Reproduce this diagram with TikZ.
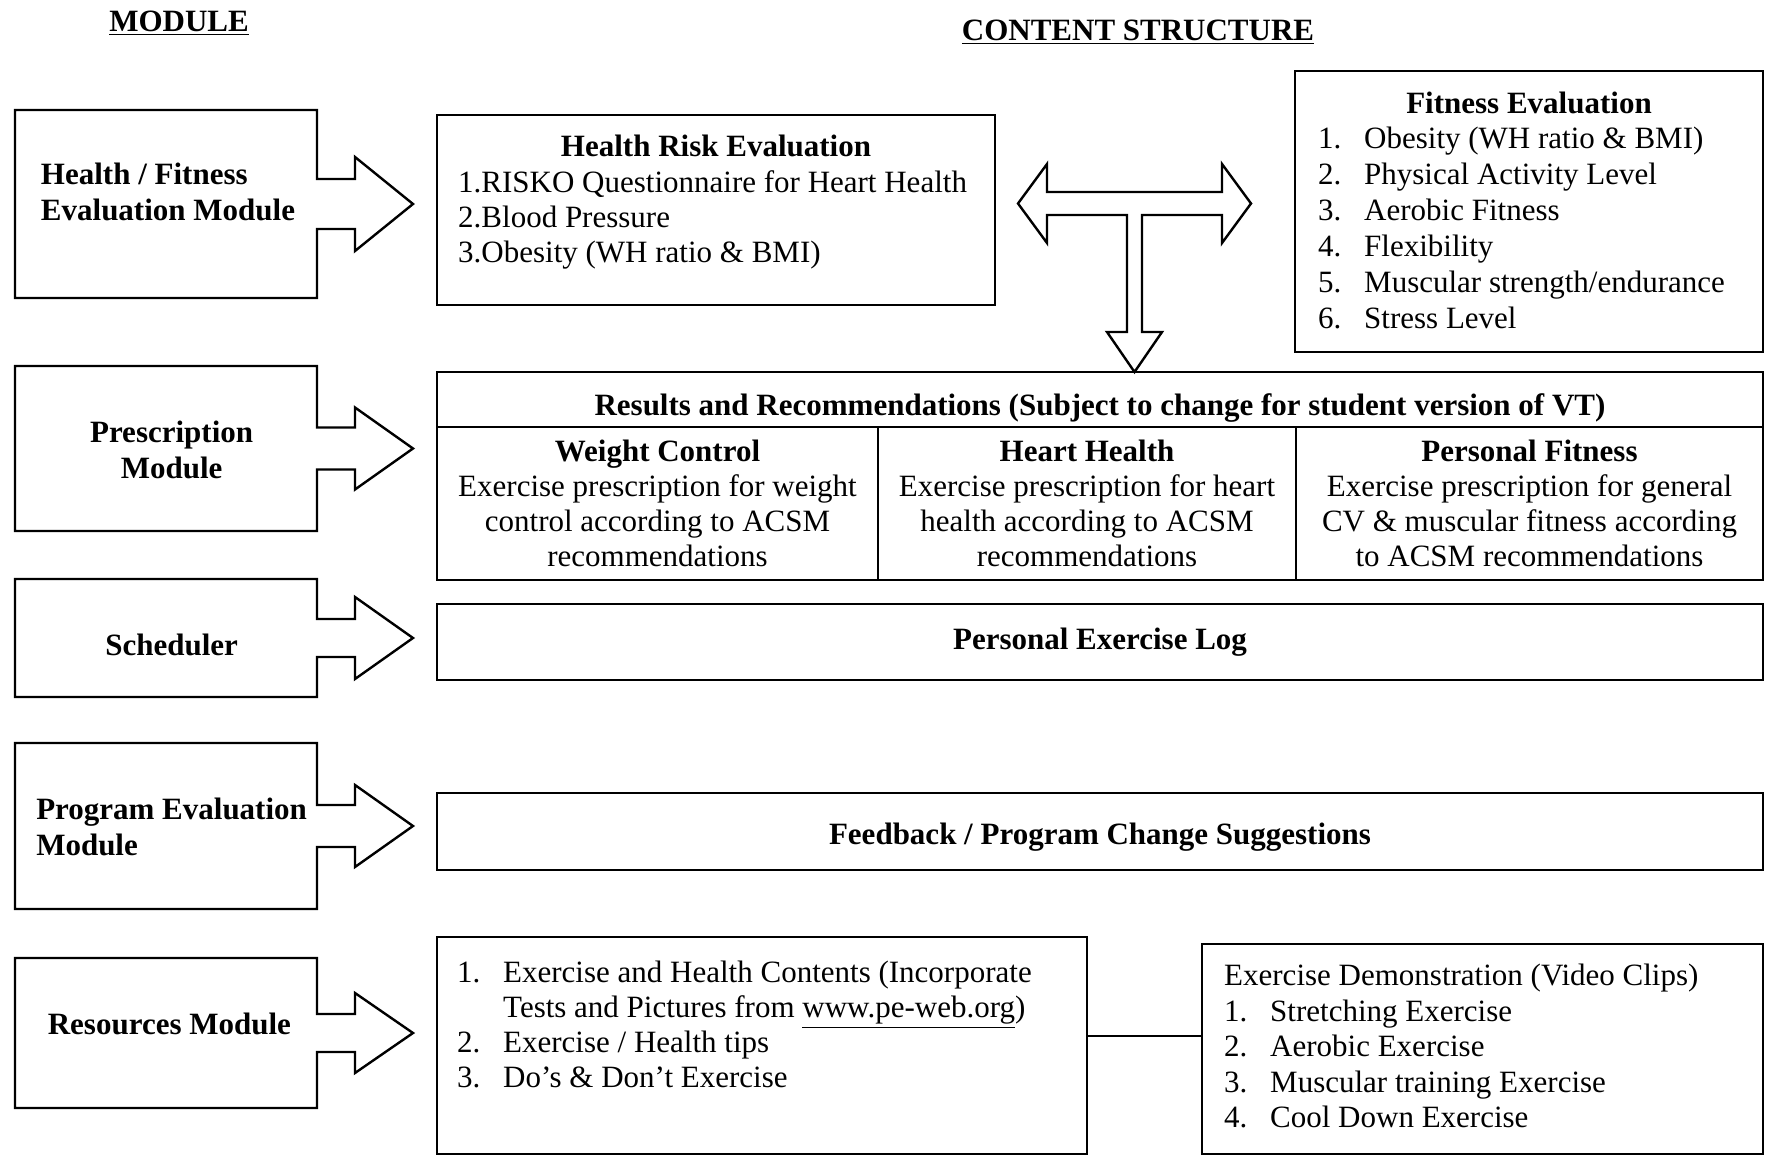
\documentclass[tikz,border=0pt]{standalone}
\usepackage{fontspec}
\setmainfont{Liberation Serif}
\usetikzlibrary{positioning}
\newcommand\nr[1]{\makebox[23pt][l]{#1}}
\begin{document}
\fontsize{15.5}{17.5}\selectfont
\begin{tikzpicture}[x=0.5pt, y=-0.5pt, line width=1.2pt,
  box/.style={draw, rectangle, inner sep=0pt, outer sep=0pt},
  modbox/.style={rectangle, minimum width=151pt, outer sep=0pt},
  modtxt/.style={inner sep=0pt, font=\fontsize{15.5}{18}\selectfont\bfseries},
  colbox/.style={draw, rectangle, outer sep=0pt, minimum height=76.5pt, align=center},
  txt/.style={inner sep=0pt, align=left}]
\useasboundingbox (0,0) rectangle (1770,1165);
\node[font=\bfseries] (modtitle) at (179,23) {\underline{MODULE}};
\node[font=\bfseries] (cstitle) at (1138,32) {\underline{CONTENT STRUCTURE}};
% modules on the left
\node[modbox, minimum height=94pt] (m1) at (166,204) {};
\node[modbox, minimum height=82.5pt] (m2) at (166,448.5) {};
\node[modbox, minimum height=59pt] (m3) at (166,638) {};
\node[modbox, minimum height=83pt] (m4) at (166,826) {};
\node[modbox, minimum height=75pt] (m5) at (166,1033) {};
\node[modtxt, align=left] (t1) at ([xshift=1pt,yshift=6pt]m1.center) {Health / Fitness\\Evaluation Module};
\node[modtxt, align=center] (t2) at ([xshift=2.8pt,yshift=-0.5pt]m2.center) {Prescription\\Module};
\node[modtxt] (t3) at ([xshift=2.8pt,yshift=-3.4pt]m3.center) {Scheduler};
\node[modtxt, align=left] (t4) at ([xshift=2.8pt,yshift=-0.5pt]m4.center) {Program Evaluation\\Module};
\node[modtxt] (t5) at ([xshift=1.7pt,yshift=4.5pt]m5.center) {Resources Module};
\foreach \m/\s/\h in {m1/12.5/23.5, m2/10.5/20.5, m3/9.5/20.5, m4/10.5/20.5, m5/9.5/20}
  \draw (\m.north west) -- (\m.north east) -- ([yshift=\s pt]\m.east) -- ++(19pt,0pt)
    -- ([xshift=19pt,yshift=\h pt]\m.east) -- ([xshift=48pt]\m.east)
    -- ([xshift=19pt,yshift=-\h pt]\m.east) -- ([xshift=19pt,yshift=-\s pt]\m.east)
    -- ([yshift=-\s pt]\m.east) -- (\m.south east) -- (\m.south west) -- cycle;
% evaluation
\node[box, minimum width=279pt, minimum height=95pt] (hre) at (716,210) {};
\node[txt, font=\bfseries, below=9.5pt of hre.north] (hretitle) {Health Risk Evaluation};
\node[txt, below right=27pt and 10pt of hre.north west] (hrelist) {1.RISKO Questionnaire for Heart Health\\2.Blood Pressure\\3.Obesity (WH ratio \& BMI)};
\node[box, minimum width=234pt, minimum height=140.5pt] (fe) at (1529,211.5) {};
\node[txt, font=\bfseries, below=10pt of fe.north] (fetitle) {Fitness Evaluation};
\node[txt, font=\fontsize{15.5}{18}\selectfont, below right=27.5pt and 11pt of fe.north west] (felist) {\nr{1.}Obesity (WH ratio \& BMI)\\\nr{2.}Physical Activity Level\\\nr{3.}Aerobic Fitness\\\nr{4.}Flexibility\\\nr{5.}Muscular strength/endurance\\\nr{6.}Stress Level};
\draw (1018,203.5) -- (1047,164) -- (1047,192) -- (1222,192) -- (1222,164) -- (1251,203.5)
  -- (1222,243) -- (1222,215) -- (1142,215) -- (1142,332) -- (1162,332) -- (1134.5,372)
  -- (1107,332) -- (1127,332) -- (1127,215) -- (1047,215) -- (1047,243) -- cycle;
% results
\node[box, minimum width=663pt, minimum height=27.5pt, text height=16pt, text depth=0pt, font=\bfseries] (rhead) at (1100,399.5) {Results and Recommendations (Subject to change for student version of VT)};
\node[colbox, minimum width=220.5pt, anchor=north west] (c1) at (rhead.south west) {\textbf{Weight Control}\\Exercise prescription for weight\\control according to ACSM\\recommendations};
\node[colbox, minimum width=209pt, anchor=north west] (c2) at (c1.north east) {\textbf{Heart Health}\\Exercise prescription for heart\\health according to ACSM\\recommendations};
\node[colbox, minimum width=233.5pt, anchor=north west] (c3) at (c2.north east) {\textbf{Personal Fitness}\\Exercise prescription for general\\CV \& muscular fitness according\\to ACSM recommendations};
\node[box, minimum width=663pt, minimum height=38pt, font=\bfseries] (log) at (1100,642) {Personal Exercise Log};
\node[box, minimum width=663pt, minimum height=38.5pt, text height=13pt, text depth=0pt, font=\bfseries] (fb) at (1100,831.5) {Feedback / Program Change Suggestions};
% resources
\node[box, minimum width=325pt, minimum height=108.5pt] (rc) at (762,1045.5) {};
\node[txt, below right=11.5pt and 9.5pt of rc.north west] (rclist) {\nr{1.}Exercise and Health Contents (Incorporate\\\nr{}Tests and Pictures from \underline{www.pe-web.org})\\\nr{2.}Exercise / Health tips\\\nr{3.}Do's \& Don't Exercise};
\node[box, minimum width=280.5pt, minimum height=105pt] (demo) at (1482.5,1049) {};
\node[txt, font=\fontsize{15.5}{17.75}\selectfont, below right=9.5pt and 10.5pt of demo.north west] (demolist) {Exercise Demonstration (Video Clips)\\\nr{1.}Stretching Exercise\\\nr{2.}Aerobic Exercise\\\nr{3.}Muscular training Exercise\\\nr{4.}Cool Down Exercise};
\coordinate (lk) at (0,1036);
\draw (rc.east |- lk) -- (demo.west |- lk);
\end{tikzpicture}
\end{document}
